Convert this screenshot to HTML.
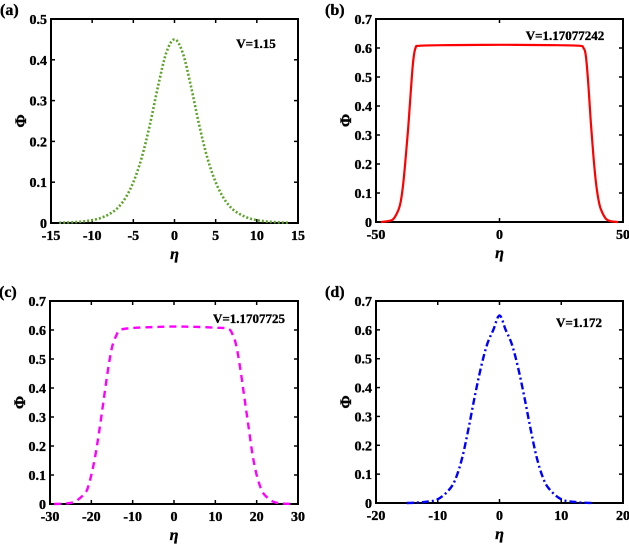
<!DOCTYPE html>
<html><head><meta charset="utf-8"><style>
html,body{margin:0;padding:0;background:#fff}
svg{display:block}
text{font-family:"Liberation Serif",serif;font-weight:bold;fill:#000;stroke:#000;stroke-width:0.35}
</style></head><body>
<svg id="fig" width="629" height="544" viewBox="0 0 629 544"></svg>
<script>
// Panel (a)
const aX=[-14,-13,-12,-11,-10,-9,-8,-7,-6,-5,-4,-3,-2,-1,0,1,2,3,4,5,6,7,8,9,10,11,12,13,14];
const aY=[0.0007,0.0013,0.0023,0.004,0.007,0.012,0.021,0.035,0.06,0.1,0.159,0.24,0.335,0.417,0.45,0.417,0.335,0.24,0.159,0.1,0.06,0.035,0.021,0.012,0.007,0.004,0.0023,0.0013,0.0007];
const aXTicks=[-15,-10,-5,0,5,10,15];
const aYTicks=[0,0.1,0.2,0.3,0.4,0.5];
// Panel (b)
const bX=[-48,-45,-43,-41,-40,-39,-38,-37,-36,-35,-34,-32,-20,0,20,32,34,35,36,37,38,39,40,41,43,45,48];
const bY=[0,0.003,0.01,0.04,0.07,0.13,0.22,0.32,0.44,0.55,0.6,0.608,0.61,0.611,0.61,0.608,0.6,0.57,0.47,0.34,0.23,0.14,0.08,0.045,0.012,0.003,0];
const bXTicks=[-50,0,50];
const bYTicks=[0,0.1,0.2,0.3,0.4,0.5,0.6,0.7];
// Panel (c)
const cX=[-29,-26,-24,-22,-21,-20,-19,-18,-17,-16,-15,-14,-13,-10,-5,0,5,10,13,14,15,16,17,18,19,20,21,22,24,26,29];
const cY=[0,0.002,0.008,0.03,0.05,0.1,0.17,0.26,0.36,0.46,0.54,0.58,0.6,0.607,0.61,0.612,0.611,0.608,0.605,0.59,0.55,0.47,0.37,0.27,0.17,0.1,0.055,0.03,0.008,0.002,0];
const cXTicks=[-30,-20,-10,0,10,20,30];
const cYTicks=[0,0.1,0.2,0.3,0.4,0.5,0.6,0.7];
// Panel (d)
const dX=[-15,-12.5,-10,-8,-7,-6,-5,-4,-3,-2,-1,0,1,2,3,4,5,6,7,8,10,12.5,15];
const dY=[0,0.003,0.013,0.05,0.09,0.16,0.26,0.37,0.47,0.55,0.6,0.65,0.6,0.55,0.47,0.37,0.26,0.16,0.09,0.05,0.013,0.003,0];
const dXTicks=[-20,-10,0,10,20];
const dYTicks=[0,0.1,0.2,0.3,0.4,0.5,0.6,0.7];

const NS='http://www.w3.org/2000/svg';
const svg=document.getElementById('fig');
function mk(tag,attrs,parent){const e=document.createElementNS(NS,tag);for(const k in attrs)e.setAttribute(k,attrs[k]);(parent||svg).appendChild(e);return e;}
function fmt(v){return (Math.round(v*10)/10).toString();}

function panel(id,box,xd,yd,xs,ys,xt,yt,style,lab,vlab,vx,vy){
  const g=mk('g',{});
  
  
  const [L,R,T,B]=box;
  const sx=v=>L+(v-xd[0])/(xd[1]-xd[0])*(R-L);
  const sy=v=>B-(v-yd[0])/(yd[1]-yd[0])*(B-T);
  const rect=mk('rect',{x:L,y:T,width:R-L,height:B-T,fill:'none',stroke:'#000','stroke-width':2},g);
  
  
  xt.forEach(v=>{
    const x=sx(v);
    mk('line',{x1:x,x2:x,y1:B,y2:B-4,stroke:'#000','stroke-width':1.5},g);
    mk('line',{x1:x,x2:x,y1:T,y2:T+4,stroke:'#000','stroke-width':1.5},g);
    const t=mk('text',{x:x,y:B+17,'text-anchor':'middle','font-size':14},g);
    t.textContent=String(v);
    
    
  });
  yt.forEach(v=>{
    const y=sy(v);
    mk('line',{x1:L,x2:L+4,y1:y,y2:y,stroke:'#000','stroke-width':1.5},g);
    mk('line',{x1:R,x2:R-4,y1:y,y2:y,stroke:'#000','stroke-width':1.5},g);
    const t=mk('text',{x:L-4,y:y+5,'text-anchor':'end','font-size':14},g);
    t.textContent=v===0?'0':fmt(v);
    
    
  });
  const P=xs.map((x,i)=>[sx(x),sy(ys[i])]);
  let d='M'+P[0][0].toFixed(2)+','+P[0][1].toFixed(2);
  for(let i=0;i<P.length-1;i++){
    const p0=P[i-1]||P[i],p1=P[i],p2=P[i+1],p3=P[i+2]||P[i+1];
    const c1=[p1[0]+(p2[0]-p0[0])/6,p1[1]+(p2[1]-p0[1])/6];
    const c2=[p2[0]-(p3[0]-p1[0])/6,p2[1]-(p3[1]-p1[1])/6];
    d+='C'+c1[0].toFixed(2)+','+c1[1].toFixed(2)+' '+c2[0].toFixed(2)+','+c2[1].toFixed(2)+' '+p2[0].toFixed(2)+','+p2[1].toFixed(2);
  }
  const path=mk('path',Object.assign({d:d,fill:'none'},style),g);
  
  
  const pl=mk('text',{x:box[0]-51,y:T-4,'font-size':16},g);
  pl.textContent=lab;
  
  
  const vt=mk('text',{x:vx,y:vy,'text-anchor':'middle','font-size':13},g);
  vt.textContent=vlab;
  
  
  const xl=mk('text',{x:(L+R)/2,y:B+36,'text-anchor':'middle','font-size':16,'font-style':'italic'},g);
  xl.textContent='η';
  
  
  const yl=mk('text',{x:L-30,y:(T+B)/2+5,'text-anchor':'middle','font-size':16,transform:'rotate(-90 '+(L-30)+' '+((T+B)/2)+')'},g);
  yl.textContent='Φ';
  
  
}
panel('a',[51,298,19,223],[-15,15],[0,0.5],aX,aY,aXTicks,aYTicks,{stroke:'#5ea32a','stroke-width':2.6,'stroke-dasharray':'2,2'},'(a)','V=1.15',256,48);
panel('b',[376,623,19,222],[-50,50],[0,0.7],bX,bY,bXTicks,bYTicks,{stroke:'#ff0000','stroke-width':2.2},'(b)','V=1.17077242',565,40);
panel('c',[50,298,301,504],[-30,30],[0,0.7],cX,cY,cXTicks,cYTicks,{stroke:'#ff00ff','stroke-width':2.4,'stroke-dasharray':'7,5'},'(c)','V=1.1707725',249,323);
panel('d',[376,623,301,503],[-20,20],[0,0.7],dX,dY,dXTicks,dYTicks,{stroke:'#0000ff','stroke-width':2.4,'stroke-dasharray':'7,3,2,3'},'(d)','V=1.172',579,327);
</script>
</body></html>
